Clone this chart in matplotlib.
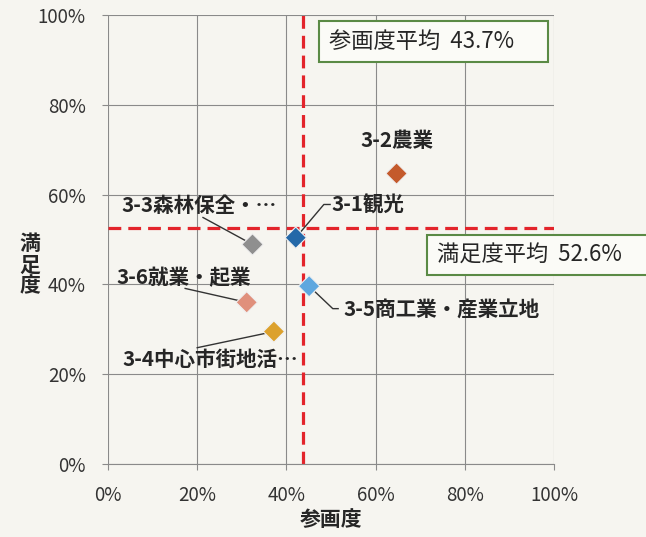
import matplotlib
matplotlib.use("Agg")
import matplotlib.pyplot as plt
from matplotlib.patches import Rectangle
from matplotlib.ticker import PercentFormatter

plt.rcParams['font.family'] = ['Noto Sans CJK JP', 'DejaVu Sans']

# data (percent)
categories = ['3-1観光', '3-2農業', '3-3森林保全・…', '3-4中心市街地活…',
              '3-5商工業・産業立地', '3-6就業・起業']
participation = [42.1, 64.7, 32.4, 37.2, 45.1, 31.1]
satisfaction = [50.4, 64.7, 48.9, 29.5, 39.6, 36.0]
colors = ['#2468a8', '#c45a2c', '#8f8f8f', '#dca12d', '#5ea7df', '#e0907c']
mean_participation = 43.7
mean_satisfaction = 52.6

# label layout: text centre and leader path (data coords)
label_xy = [(58.3, 57.6), (64.8, 72.1), (20.5, 57.6), (22.9, 23.2), (74.8, 34.4), (16.9, 41.5)]
leaders = [[(48.4, 57.8), (49.8, 57.8)], [], [(21.3, 54.9)], [(20.0, 25.9)],
           [(50.4, 34.6), (51.6, 34.6)], [(17.3, 39.1)]]

W, H = 646, 537
bg = '#f6f5f0'
fig = plt.figure(figsize=(W / 100, H / 100), dpi=100, facecolor=bg)
ax = fig.add_axes([108 / W, 1 - 464 / H, 446 / W, 449 / H], facecolor=bg)

def px(x, y):
    return (x / W, 1 - y / H)

ax.set_xlim(0, 100)
ax.set_ylim(0, 100)
ax.set_xticks(range(0, 101, 20))
ax.set_yticks(range(0, 101, 20))
ax.xaxis.set_major_formatter(PercentFormatter(decimals=0))
ax.yaxis.set_major_formatter(PercentFormatter(decimals=0))
ax.grid(True, color='#8a8a8a', lw=0.8)
ax.set_axisbelow(True)
for s in ['left', 'right', 'top']:
    ax.spines[s].set_visible(False)
ax.spines['bottom'].set_color('#8a8a8a')
ax.tick_params(axis='both', colors='#8a8a8a', labelcolor='#333333', labelsize=13.5, length=4)
ax.tick_params(axis='x', pad=11)
ax.tick_params(axis='y', pad=12)

# mean lines
ax.axvline(mean_participation, color='#e3242b', lw=2.3, ls=(0, (4, 2.2)), zorder=2)
ax.axhline(mean_satisfaction, color='#e3242b', lw=2.3, ls=(0, (4, 2.2)), zorder=2)

# leader lines
for i in range(len(categories)):
    if leaders[i]:
        xs = [participation[i]] + [p[0] for p in leaders[i]]
        ys = [satisfaction[i]] + [p[1] for p in leaders[i]]
        ax.plot(xs, ys, color='#333333', lw=1, zorder=3)

ax.scatter(participation, satisfaction, marker='D', s=118, c=colors,
           edgecolors='#f0f0f0', linewidths=0.8, zorder=4)

for i, name in enumerate(categories):
    ax.text(label_xy[i][0], label_xy[i][1], name, ha='center', va='center',
            fontsize=14.8, fontweight='bold', color='#262626', zorder=5)

ax.set_xlabel('参画度', fontsize=15, fontweight='bold', color='#262626', labelpad=2)
fig.text(30 / W, 1 - 265 / H, '満\n足\n度', ha='center', va='center', fontsize=15,
         fontweight='bold', color='#262626', linespacing=1.0)

# mean boxes
for (x0, y0, x1, y1), txt in [((319, 21, 548, 62), '参画度平均  43.7%'),
                              ((427, 235, 660, 275), '満足度平均  52.6%')]:
    r = Rectangle(px(x0, y1), (x1 - x0) / W, (y1 - y0) / H, transform=fig.transFigure,
                  facecolor='#fbfbf7', edgecolor='#5a8a45', lw=1.5, zorder=6)
    fig.add_artist(r)
    fig.text(*px(x0 + 10, (y0 + y1) / 2), txt, ha='left', va='center', fontsize=16,
             color='#262626', zorder=7)

fig.savefig('out.png', dpi=100, facecolor=bg)
